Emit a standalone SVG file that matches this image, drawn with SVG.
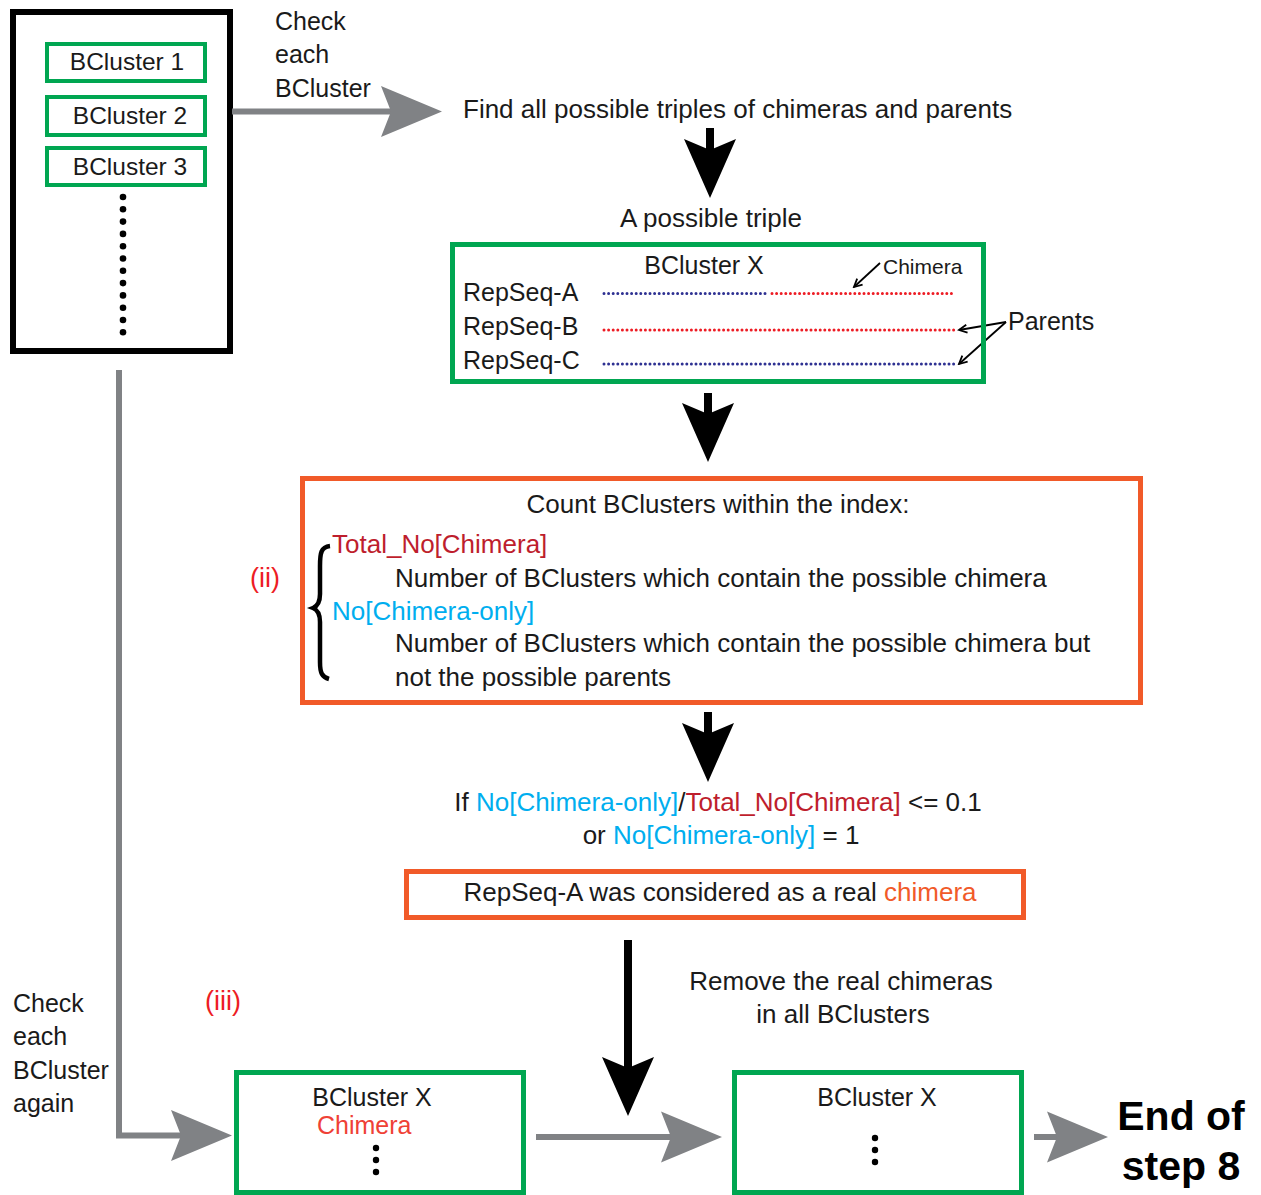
<svg xmlns="http://www.w3.org/2000/svg" width="1261" height="1195" viewBox="0 0 1261 1195">
<defs>
<style>
text{font-family:"Liberation Sans",Arial,sans-serif;fill:#1a1a1a}
.t26{font-size:26px}
.t25{font-size:25px}
.t24{font-size:24.5px}
.mid{text-anchor:middle}
.g{fill:none;stroke:#00A651}
.o{fill:none;stroke:#F15A29}
.grey{fill:none;stroke:#808285;stroke-width:6}
.blk{fill:none;stroke:#000;stroke-width:8}
.thin{fill:none;stroke:#000;stroke-width:1.8}
.crim{fill:#BE1E2D}
.cyan{fill:#00AEEF}
.red{fill:#ED1C24}
.orn{fill:#F15A29}
.dotb{stroke:#2E3192;stroke-width:3;stroke-linecap:round;stroke-dasharray:0 4.6;fill:none}
.dotr{stroke:#ED1C24;stroke-width:3;stroke-linecap:round;stroke-dasharray:0 4.6;fill:none}
</style>
<marker id="ag" markerUnits="userSpaceOnUse" viewBox="-62 -27 64 54" refX="-51" refY="0" markerWidth="64" markerHeight="54" orient="auto">
<path d="M-61,-25.5 L0,0 L-61,25.5 L-51,0 Z" fill="#808285"/>
</marker>
<marker id="ab" markerUnits="userSpaceOnUse" viewBox="-60 -27 62 54" refX="-48" refY="0" markerWidth="62" markerHeight="54" orient="auto">
<path d="M-59,-26 L0,0 L-59,26 L-48,0 Z" fill="#000"/>
</marker>
<marker id="as" markerUnits="userSpaceOnUse" viewBox="-10 -6 12 12" refX="0" refY="0" markerWidth="12" markerHeight="12" orient="auto">
<path d="M-8,-4 L0,0 L-8,4" fill="none" stroke="#000" stroke-width="1.8"/>
</marker>
</defs>
<rect width="1261" height="1195" fill="#fff"/>

<g id="index-box">
<rect x="13" y="12" width="217" height="339" fill="none" stroke="#000" stroke-width="6"/>
<g id="bcluster1"><rect class="g" x="47" y="44" width="158" height="37" stroke-width="4"/><text class="t24 mid" x="127" y="70">BCluster 1</text></g>
<g id="bcluster2"><rect class="g" x="47" y="97" width="158" height="38" stroke-width="4"/><text class="t24 mid" x="130" y="124">BCluster 2</text></g>
<g id="bcluster3"><rect class="g" x="47" y="148" width="158" height="37" stroke-width="4"/><text class="t24 mid" x="130" y="175">BCluster 3</text></g>
<g id="dots" fill="#000">
<circle cx="123" cy="197" r="3.3"/><circle cx="123" cy="209.3" r="3.3"/><circle cx="123" cy="221.6" r="3.3"/><circle cx="123" cy="233.9" r="3.3"/><circle cx="123" cy="246.2" r="3.3"/><circle cx="123" cy="258.5" r="3.3"/><circle cx="123" cy="270.8" r="3.3"/><circle cx="123" cy="283.1" r="3.3"/><circle cx="123" cy="295.4" r="3.3"/><circle cx="123" cy="307.7" r="3.3"/><circle cx="123" cy="320" r="3.3"/><circle cx="123" cy="332.3" r="3.3"/>
</g>
</g>

<g id="connectors">
<path class="grey" d="M232,111.5 H391" marker-end="url(#ag)"/>
<path class="blk" d="M710,128 V150" marker-end="url(#ab)"/>
<path class="blk" d="M708,393 V414" marker-end="url(#ab)"/>
<path class="blk" d="M708,712 V734" marker-end="url(#ab)"/>
<path class="blk" d="M628,940 V1068" marker-end="url(#ab)"/>
<path class="grey" d="M119,370 V1135.5 H181" marker-end="url(#ag)"/>
<path class="grey" d="M536,1137 H671" marker-end="url(#ag)"/>
<path class="grey" d="M1034,1137 H1057" marker-end="url(#ag)"/>
<path class="thin" d="M880,263 L854,287" marker-end="url(#as)"/>
<path class="thin" d="M1006,322 L959,330" marker-end="url(#as)"/>
<path class="thin" d="M1006,322 L959,364" marker-end="url(#as)"/>
</g>

<g id="labels-top">
<text class="t25" x="275" y="30">Check</text>
<text class="t25" x="275" y="63">each</text>
<text class="t25" x="275" y="97">BCluster</text>
<text class="t26" x="463" y="118">Find all possible triples of chimeras and parents</text>
<text class="t26 mid" x="711" y="227">A possible triple</text>
</g>

<g id="triple">
<rect class="g" x="452.5" y="244.5" width="531" height="137" stroke-width="5"/>
<text class="t25 mid" x="704" y="274">BCluster X</text>
<text x="883" y="274" style="font-size:21px">Chimera</text>
<text class="t25" x="463" y="301">RepSeq-A</text>
<text class="t25" x="463" y="335">RepSeq-B</text>
<text class="t25" x="463" y="369">RepSeq-C</text>
<path class="dotb" d="M604,293.5 H768"/>
<path class="dotr" d="M772,293.5 H954"/>
<path class="dotr" d="M604,330 H954"/>
<path class="dotb" d="M604,364 H954"/>
<text class="t25" x="1008" y="330">Parents</text>
</g>

<g id="count">
<rect class="o" x="302.5" y="478.5" width="838" height="224" stroke-width="5"/>
<text class="t26 mid" x="718" y="513">Count BClusters within the index:</text>
<text class="red" x="250" y="587" style="font-size:27px">(ii)</text>
<path d="M330,546 C321,547 320,553 320,566 L320,594 C320,602 318,606 313,608 C318,610 320,614 320,622 L320,662 C320,673 322,677 329,679" fill="none" stroke="#000" stroke-width="4.5"/>
<text class="t26 crim" x="332" y="553">Total_No[Chimera]</text>
<text class="t26" x="395" y="587">Number of BClusters which contain the possible chimera</text>
<text class="t26 cyan" x="332" y="620">No[Chimera-only]</text>
<text class="t26" x="395" y="652">Number of BClusters which contain the possible chimera but</text>
<text class="t26" x="395" y="686">not the possible parents</text>
</g>

<g id="condition">
<text class="t26 mid" x="718" y="811">If <tspan class="cyan">No[Chimera-only]</tspan>/<tspan class="crim">Total_No[Chimera]</tspan> &lt;= 0.1</text>
<text class="t26 mid" x="721" y="844">or <tspan class="cyan">No[Chimera-only]</tspan> = 1</text>
</g>

<g id="real-chimera">
<rect class="o" x="406.5" y="871.5" width="617" height="46" stroke-width="5"/>
<text class="t26 mid" x="720" y="901">RepSeq-A was considered as a real <tspan class="orn">chimera</tspan></text>
</g>

<g id="remove-label">
<text class="t26 mid" x="841" y="990">Remove the real chimeras</text>
<text class="t26 mid" x="843" y="1023">in all BClusters</text>
</g>

<g id="labels-left">
<text class="t25" x="13" y="1012">Check</text>
<text class="t25" x="13" y="1045">each</text>
<text class="t25" x="13" y="1079">BCluster</text>
<text class="t25" x="13" y="1112">again</text>
<text class="red" x="205" y="1010" style="font-size:27px">(iii)</text>
</g>

<g id="bclusterx-before">
<rect class="g" x="236.5" y="1072.5" width="287" height="120" stroke-width="5"/>
<text class="t25 mid" x="372" y="1106">BCluster X</text>
<text class="t25" x="317" y="1134" style="fill:#EF4136">Chimera</text>
<g fill="#000"><circle cx="376" cy="1148" r="3.2"/><circle cx="376" cy="1160" r="3.2"/><circle cx="376" cy="1172" r="3.2"/></g>
</g>

<g id="bclusterx-after">
<rect class="g" x="734.5" y="1072.5" width="287" height="120" stroke-width="5"/>
<text class="t25 mid" x="877" y="1106">BCluster X</text>
<g fill="#000"><circle cx="875" cy="1138" r="3.2"/><circle cx="875" cy="1150" r="3.2"/><circle cx="875" cy="1162" r="3.2"/></g>
</g>

<g id="end">
<text x="1181" y="1130" class="mid" style="font-size:41px;font-weight:bold;fill:#000">End of</text>
<text x="1181" y="1180" class="mid" style="font-size:41px;font-weight:bold;fill:#000">step 8</text>
</g>
</svg>
